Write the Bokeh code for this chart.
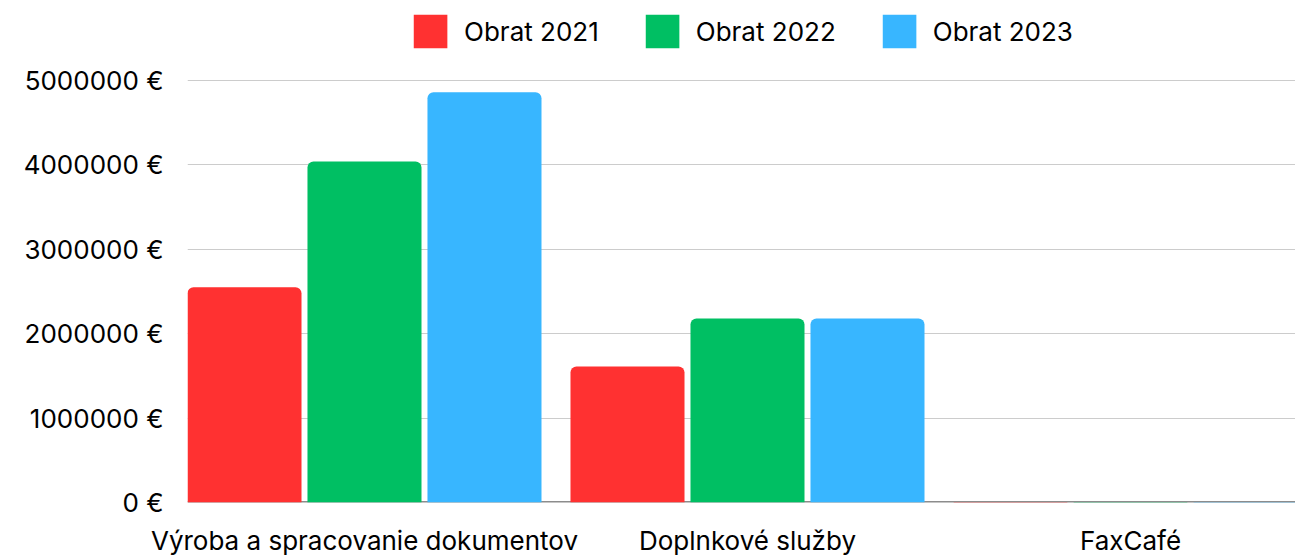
from bokeh.plotting import figure
from bokeh.models import Range1d, FixedTicker, ColumnDataSource, Legend, LegendItem, Span
from bokeh.transform import dodge
from bokeh.embed import file_html
from bokeh.resources import INLINE

categories = ["Výroba a spracovanie dokumentov", "Doplnkové služby", "FaxCafé"]
series_names = ["Obrat 2021", "Obrat 2022", "Obrat 2023"]
obrat_2021 = [2550000, 1610000, 6000]
obrat_2022 = [4040000, 2180000, 6000]
obrat_2023 = [4860000, 2180000, 6000]
colors = ["#FF3131", "#00BF63", "#38B6FF"]
y_ticks = [0, 1000000, 2000000, 3000000, 4000000, 5000000]
y_tick_labels = ["0 €", "1000000 €", "2000000 €", "3000000 €", "4000000 €", "5000000 €"]

FONT = "Inter"
FS = "26px"
idx = list(range(len(categories)))
source = ColumnDataSource(dict(x=idx, s2021=obrat_2021, s2022=obrat_2022, s2023=obrat_2023))

p = figure(
    frame_width=1108, frame_height=492,
    min_border_left=187, min_border_right=0, min_border_top=10, min_border_bottom=54,
    x_range=Range1d(-0.4621, 2.4308), y_range=Range1d(0, 5829000),
    output_backend="svg", toolbar_location=None,
)
p.outline_line_color = None
p.background_fill_color = "white"
p.border_fill_color = "white"

p.add_layout(Span(location=0, dimension="width", line_color="#8c8c8c",
                  line_width=3, level="underlay"))

offsets = [-0.3133, 0.0, 0.3133]
cols = ["s2021", "s2022", "s2023"]
items = []
for name, col, off, c in zip(series_names, cols, offsets, colors):
    r = p.vbar(x=dodge("x", off), top=col, bottom=0, width=0.2977, source=source,
               fill_color=c, line_color=None, border_radius=(6, 6, 0, 0))
    items.append(LegendItem(label=name, renderers=[r]))

legend = Legend(items=items, orientation="horizontal", location="top_center",
                background_fill_alpha=0, border_line_color=None,
                glyph_width=42, glyph_height=42, label_text_font=FONT,
                label_text_font_size=FS, label_text_color="#000000",
                spacing=42, label_standoff=13, margin=0, padding=8)
p.add_layout(legend, "center")

p.xgrid.grid_line_color = None
p.ygrid.grid_line_color = "#cccccc"
p.ygrid.grid_line_width = 1
p.ygrid.ticker = FixedTicker(ticks=y_ticks[1:])

p.yaxis.ticker = FixedTicker(ticks=y_ticks)
p.yaxis.major_label_overrides = {t: l for t, l in zip(y_ticks, y_tick_labels)}
p.yaxis.axis_line_color = None
p.yaxis.major_tick_line_color = None
p.yaxis.minor_tick_line_color = None
p.yaxis.major_tick_out = 0
p.yaxis.major_tick_in = 0
p.yaxis.major_label_standoff = 24
p.yaxis.major_label_text_font = FONT
p.yaxis.major_label_text_font_size = FS
p.yaxis.major_label_text_color = "#000000"

p.xaxis.ticker = FixedTicker(ticks=idx)
p.xaxis.major_label_overrides = {i: c for i, c in zip(idx, categories)}
p.xaxis.axis_line_color = None
p.xaxis.major_tick_line_color = None
p.xaxis.minor_tick_line_color = None
p.xaxis.major_tick_out = 0
p.xaxis.major_tick_in = 0
p.xaxis.major_label_standoff = 22
p.xaxis.major_label_text_font = FONT
p.xaxis.major_label_text_font_size = FS
p.xaxis.major_label_text_color = "#000000"

open("out.html", "w").write(file_html(p, INLINE))
